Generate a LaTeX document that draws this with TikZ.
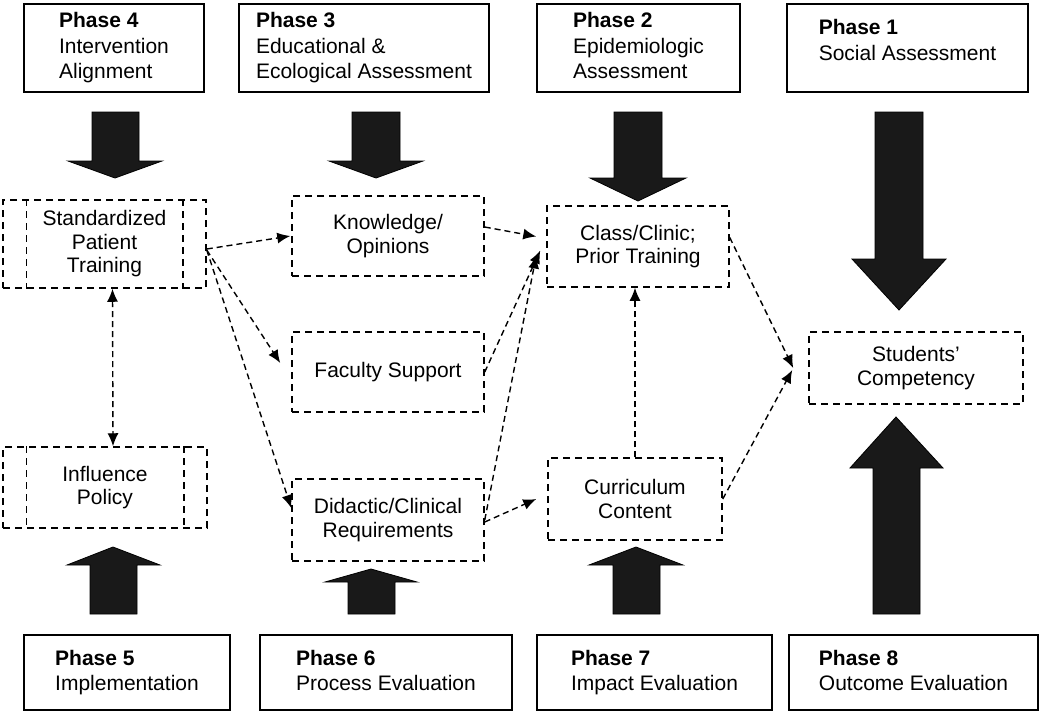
\documentclass[tikz,border=0pt]{standalone}
\usepackage{fontspec}
\setmainfont{Liberation Sans}
\usetikzlibrary{arrows.meta}

\begin{document}
\begin{tikzpicture}[x=1pt, y=-1pt, >={Latex[length=13pt,width=11pt]},
  every node/.style={inner sep=0pt},
  phase/.style={draw, rectangle, line width=1.4pt, align=left, text depth=4.5pt, font=\fontsize{21}{25.5}\selectfont},
  factor/.style={draw, rectangle, line width=1.5pt, dash pattern=on 7pt off 5pt, align=center, font=\fontsize{21}{23.5}\selectfont},
  link/.style={->, line width=1.4pt, dash pattern=on 6pt off 4pt},
  fatarrow/.style={fill=black!90, draw=black, line width=0.8pt}]
  \useasboundingbox (0,0) rectangle (1050,713);

  % Phases
  \node[phase, minimum width=180pt, minimum height=88pt] (Phase4) at (114,48) {\textbf{Phase 4}\\Intervention\\Alignment};
  \node[phase, minimum width=250pt, minimum height=88pt] (Phase3) at (364,48) {\textbf{Phase 3}\\Educational \&\\Ecological Assessment};
  \node[phase, minimum width=203pt, minimum height=88pt] (Phase2) at (638.5,48) {\textbf{Phase 2}\\Epidemiologic\\Assessment};
  \node[phase, minimum width=241pt, minimum height=88pt, text depth=16pt] (Phase1) at (907.5,48) {\textbf{Phase 1}\\Social Assessment};
  \node[phase, minimum width=206pt, minimum height=75pt] (Phase5) at (127,672.5) {\textbf{Phase 5}\\Implementation};
  \node[phase, minimum width=252pt, minimum height=75pt] (Phase6) at (386,672.5) {\textbf{Phase 6}\\Process Evaluation};
  \node[phase, minimum width=235pt, minimum height=75pt] (Phase7) at (654.5,672.5) {\textbf{Phase 7}\\Impact Evaluation};
  \node[phase, minimum width=249pt, minimum height=75pt] (Phase8) at (913.5,672.5) {\textbf{Phase 8}\\Outcome Evaluation};

  % Factors
  \node[factor, minimum width=203pt, minimum height=88pt] (SPT) at (104.5,244) {Standardized\\Patient\\Training};
  \node[factor, minimum width=204pt, minimum height=81pt] (IP) at (105,487.5) {Influence\\Policy};
  \node[factor, minimum width=192pt, minimum height=80pt] (KO) at (388,236) {Knowledge/\\Opinions};
  \node[factor, minimum width=192pt, minimum height=80pt] (FS) at (388,372) {Faculty Support};
  \node[factor, minimum width=192pt, minimum height=82pt] (DCR) at (388,520) {Didactic/Clinical\\Requirements};
  \node[factor, minimum width=182pt, minimum height=81pt] (CC) at (638,246.5) {Class/Clinic;\\Prior Training};
  \node[factor, minimum width=174pt, minimum height=82pt] (CUR) at (635,499) {Curriculum\\Content};
  \node[factor, minimum width=214pt, minimum height=72pt] (SC) at (916,368) {Students’\\Competency};
  \draw[factor] ([xshift=24pt]SPT.north west) -- ([xshift=24pt]SPT.south west);
  \draw[factor] ([xshift=-24pt]SPT.north east) -- ([xshift=-24pt]SPT.south east);
  \draw[factor] ([xshift=24pt]IP.north west) -- ([xshift=24pt]IP.south west);
  \draw[factor] ([xshift=-24pt]IP.north east) -- ([xshift=-24pt]IP.south east);

  % Phase arrows
  \draw[fatarrow] (92,112) -- (139,112) -- (139,161) -- (162,161) -- (115,178) -- (68,161) -- (92,161) -- cycle;
  \draw[fatarrow] (352,112) -- (400,112) -- (400,161) -- (423,161) -- (376,178) -- (329,161) -- (352,161) -- cycle;
  \draw[fatarrow] (614,112) -- (662,112) -- (662,178) -- (686,178) -- (638,201) -- (590,178) -- (614,178) -- cycle;
  \draw[fatarrow] (875,112) -- (923,112) -- (923,259) -- (946,259) -- (899,310) -- (852,259) -- (875,259) -- cycle;
  \draw[fatarrow] (90,614) -- (137,614) -- (137,565) -- (160,565) -- (113,547) -- (67,565) -- (90,565) -- cycle;
  \draw[fatarrow] (348,614) -- (395,614) -- (395,582) -- (417,582) -- (371,569) -- (325,582) -- (348,582) -- cycle;
  \draw[fatarrow] (613,614) -- (660,614) -- (660,565) -- (683,565) -- (636,547) -- (589,565) -- (613,565) -- cycle;
  \draw[fatarrow] (873,614) -- (920,614) -- (920,468) -- (943,468) -- (896,417) -- (850,468) -- (873,468) -- cycle;

  % Links
  \draw[link] ([yshift=-5pt]SPT.east) -- ([xshift=-1pt]KO.west);
  \draw[link] ([yshift=-6pt]SPT.east) -- ([xshift=-11pt,yshift=9pt]FS.west);
  \draw[link] ([yshift=-6pt]SPT.east) -- ([yshift=12pt]DCR.west);
  \draw[link, <->] ([xshift=8pt]SPT.south) -- ([xshift=8pt]IP.north);
  \draw[link] ([yshift=9pt]KO.east) -- ([xshift=-10pt,yshift=10pt]CC.west);
  \draw[link] (FS.east) -- ([xshift=-6pt,yshift=-4pt]CC.west);
  \draw[link] (DCR.east) -- ([xshift=-10pt,yshift=-9pt]CC.west);
  \draw[link] ([yshift=-2pt]DCR.east) -- ([xshift=-11pt]CUR.west);
  \draw[link] (CUR.north) -- (CUR.north |- CC.south);
  \draw[link] ([yshift=9pt]CC.east) -- ([xshift=-15pt]SC.west);
  \draw[link] (CUR.east) -- ([xshift=-16pt,yshift=-2pt]SC.west);
\end{tikzpicture}
\end{document}
